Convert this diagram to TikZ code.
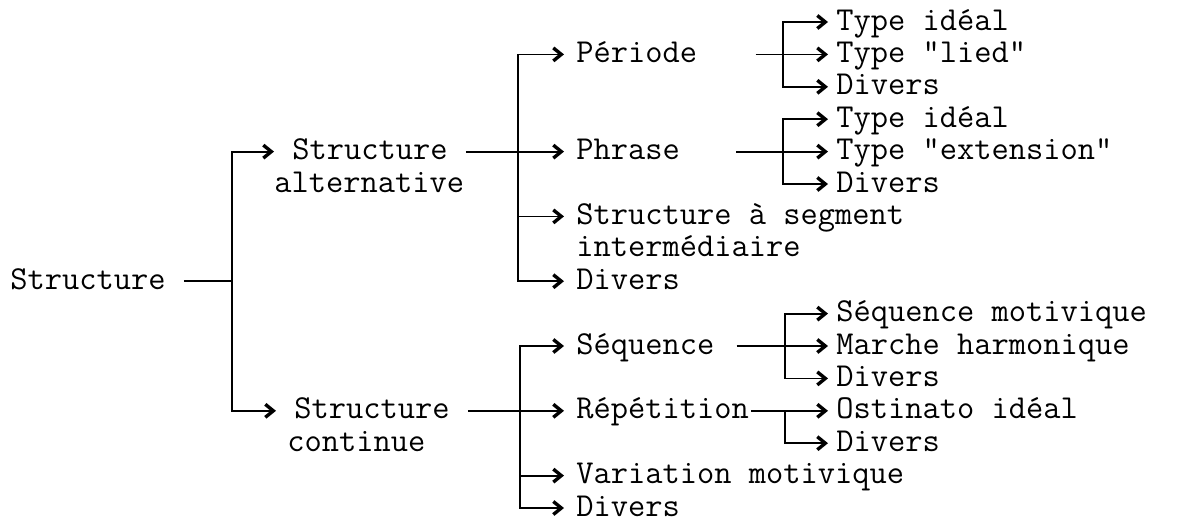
\documentclass[tikz,border=0pt]{standalone}
\usepackage{fontspec}
\usetikzlibrary{arrows.meta}
\begin{document}
\begin{tikzpicture}[x=0.5pt,y=-0.5pt,
  txt/.style={font=\fontsize{16.74pt}{18pt}\ttfamily, inner sep=0pt, anchor=base west, text height=8pt, text depth=0pt},
  conn/.style={line width=0.9pt},
  arr/.style={conn, -{Straight Barb[length=4pt,width=6.5pt,line width=1.7pt]}}]
\useasboundingbox (0,0) rectangle (1182,527);
% level 0
\node[txt] (root) at (10,289.2) {Structure};
% level 1
\node[txt] (alt) at (292,159.6) {Structure};
\node[txt] (alt2) at (274,192) {alternative};
\node[txt] (cont) at (294,418.8) {Structure};
\node[txt] (cont2) at (287,451.2) {continue};
% level 2
\node[txt] (per) at (576,62.4) {Période};
\node[txt] (phr) at (576,159.6) {Phrase};
\node[txt] (seg) at (576,224.4) {Structure à segment};
\node[txt] (seg2) at (576,256.8) {intermédiaire};
\node[txt] (dv1) at (576,289.2) {Divers};
\node[txt] (seq) at (576,354) {Séquence};
\node[txt] (rep) at (576,418.8) {Répétition};
\node[txt] (var) at (576,483.6) {Variation motivique};
\node[txt] (dv2) at (576,516) {Divers};
% level 3
\node[txt] (ti1) at (836,30) {Type idéal};
\node[txt] (tl) at (836,62.4) {Type "lied"};
\node[txt] (dv3) at (836,94.8) {Divers};
\node[txt] (ti2) at (836,127.2) {Type idéal};
\node[txt] (te) at (836,159.6) {Type "extension"};
\node[txt] (dv4) at (836,192) {Divers};
\node[txt] (sm) at (836,321.6) {Séquence motivique};
\node[txt] (mh) at (836,354) {Marche harmonique};
\node[txt] (dv5) at (836,386.4) {Divers};
\node[txt] (oi) at (836,418.8) {Ostinato idéal};
\node[txt] (dv6) at (836,451.2) {Divers};
% junctions
\coordinate (j0) at (232,281.2);
\coordinate (j1) at (518,151.6);
\coordinate (j2) at (520,410.8);
\coordinate (jp) at (783,54.4);
\coordinate (jh) at (783,151.6);
\coordinate (js) at (785,346);
\coordinate (jr) at (785,410.8);
% connectors
\draw[conn] ([xshift=9pt]root.east) -- (j0);
\draw[arr] (j0) |- ([xshift=-9pt]alt.west);
\draw[arr] (j0) |- ([xshift=-9pt]cont.west);
\draw[conn] ([xshift=9pt]alt.east) -- (j1);
\draw[arr] (j1) |- ([xshift=-6pt]per.west);
\draw[arr] (j1) -- ([xshift=-6pt]phr.west);
\draw[arr] (j1) |- ([xshift=-6pt]seg.west);
\draw[arr] (j1) |- ([xshift=-6pt]dv1.west);
\draw[conn] ([xshift=9pt]cont.east) -- (j2);
\draw[arr] (j2) |- ([xshift=-6pt]seq.west);
\draw[arr] (j2) -- ([xshift=-6pt]rep.west);
\draw[arr] (j2) |- ([xshift=-6pt]var.west);
\draw[arr] (j2) |- ([xshift=-6pt]dv2.west);
\draw[conn] ([xshift=29pt]per.east) -- (jp);
\draw[arr] (jp) |- ([xshift=-4pt]ti1.west);
\draw[arr] (jp) -- ([xshift=-4pt]tl.west);
\draw[arr] (jp) |- ([xshift=-4pt]dv3.west);
\draw[conn] ([xshift=28pt]phr.east) -- (jh);
\draw[arr] (jh) |- ([xshift=-4pt]ti2.west);
\draw[arr] (jh) -- ([xshift=-4pt]te.west);
\draw[arr] (jh) |- ([xshift=-4pt]dv4.west);
\draw[conn] ([xshift=11pt]seq.east) -- (js);
\draw[arr] (js) |- ([xshift=-4pt]sm.west);
\draw[arr] (js) -- ([xshift=-4pt]mh.west);
\draw[arr] (js) |- ([xshift=-4pt]dv5.west);
\draw[conn] ([xshift=1pt]rep.east) -- (jr);
\draw[arr] (jr) -- ([xshift=-4pt]oi.west);
\draw[arr] (jr) |- ([xshift=-4pt]dv6.west);
\end{tikzpicture}
\end{document}
